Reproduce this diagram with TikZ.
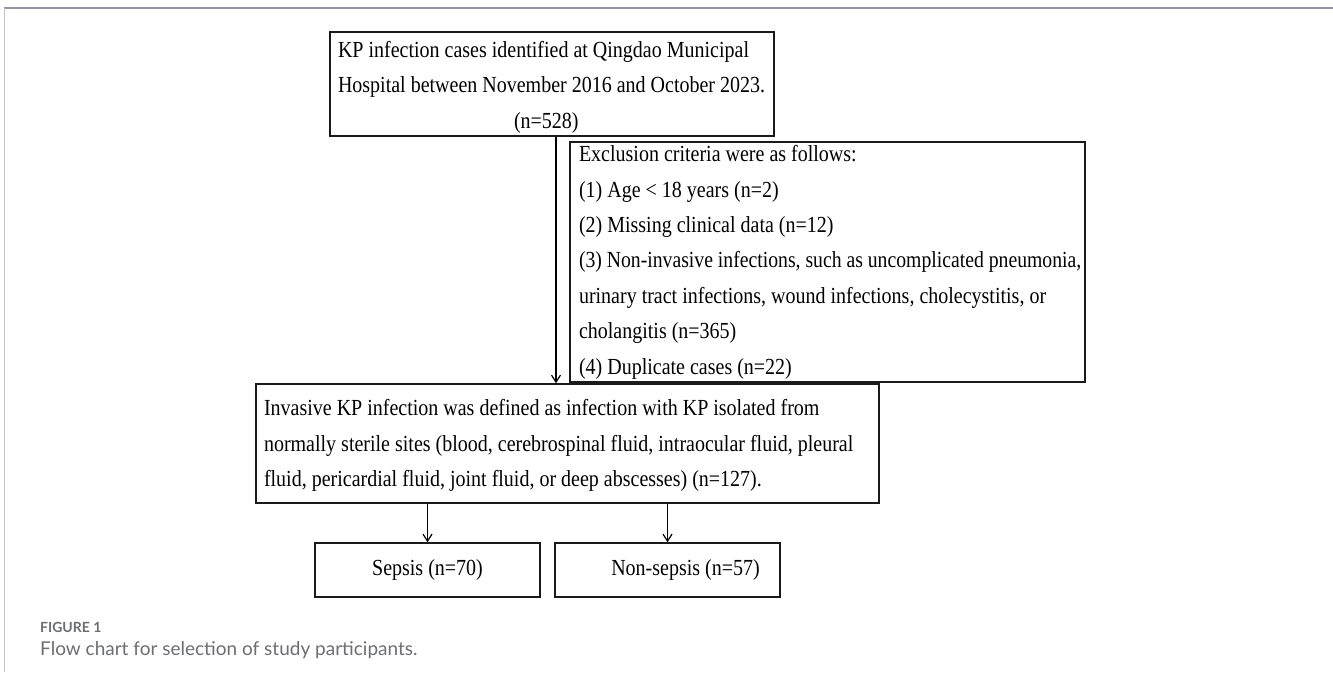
\documentclass[tikz,border=0pt]{standalone}
\usepackage{fontspec}
\setmainfont{Liberation Serif}
\newfontfamily\capfont{Lato}
\usetikzlibrary{arrows.meta}
\definecolor{rulegray}{HTML}{9494A6}
\definecolor{leftgray}{HTML}{C4C4CC}
\definecolor{capgray}{HTML}{6D6E71}
\definecolor{boxline}{HTML}{1A1A1A}
% text block: width #1, lines #2, stretched vertically like the reference
\newcommand\flowtext[3][-5.75pt]{\raisebox{#1}[0pt][0pt]{\scalebox{1}[1.15]{\makebox[#2][l]{\begin{tabular}[c]{@{}l@{}}#3\end{tabular}}}}}
\newcommand\tallline[1]{\scalebox{1}[1.15]{#1}}
\tikzset{
  flowbox/.style={draw=boxline, line width=1.6pt, inner sep=0pt,
    font=\fontsize{20}{30.8}\selectfont},
  smallbox/.style={draw=boxline, line width=1.6pt, inner sep=0pt, align=center,
    minimum width=225pt, minimum height=54pt, font=\fontsize{20}{24}\selectfont},
  arr/.style={draw=black, line width=1.2pt, -{Straight Barb[length=7pt,width=9pt]}},
}
\begin{document}
\begin{tikzpicture}[x=1pt,y=-1pt]
\useasboundingbox (0,0) rectangle (1333,672);
\fill[white] (0,0) rectangle (1333,672);
% page rules
\draw[rulegray, line width=2pt] (4,8) -- (1333,8);
\draw[leftgray, line width=1pt] (4,8) -- (4,672);

\node[flowbox, minimum width=444pt, minimum height=104pt]
  (kp) at (552,84)
  {\flowtext[-7.75pt]{428pt}{KP infection cases identified at Qingdao Municipal\\
   Hospital between November 2016 and October 2023.\\
   \hspace*{176pt}(n=528)}};

\node[flowbox, minimum width=515pt, minimum height=240pt]
  (excl) at (827.5,262)
  {\flowtext[-4.75pt]{497pt}{Exclusion criteria were as follows:\\
   (1) Age < 18 years (n=2)\\
   (2) Missing clinical data (n=12)\\
   \scalebox{0.985}[1]{(3) Non-invasive infections, such as uncomplicated pneumonia,}\\
   urinary tract infections, wound infections, cholecystitis, or\\
   cholangitis (n=365)\\
   (4) Duplicate cases (n=22)}};

\node[flowbox, minimum width=623pt, minimum height=119pt]
  (inv) at (567.5,443.5)
  {\flowtext[-6.75pt]{607pt}{Invasive KP infection was defined as infection with KP isolated from\\
   normally sterile sites (blood, cerebrospinal fluid, intraocular fluid, pleural\\
   fluid, pericardial fluid, joint fluid, or deep abscesses) (n=127).}};

\node[smallbox] (sep) at (427.5,570) {\tallline{Sepsis (n=70)}};
\node[smallbox] (nsep) at (667.5,570) {\tallline{\hspace*{36pt}Non-sepsis (n=57)}};

\coordinate (ax) at (556,0);
\draw[arr] (kp.south -| ax) -- (inv.north -| ax);
\draw[arr] (inv.south -| sep.north) -- (sep.north);
\draw[arr] (inv.south -| nsep.north) -- (nsep.north);

% caption
\node[anchor=west, inner sep=0pt, text=capgray, font=\capfont\bfseries\fontsize{14}{16}\selectfont]
  (figlab) at (40,627) {FIGURE 1};
\node[anchor=west, inner sep=0pt, text=capgray, font=\capfont\fontsize{19}{22}\selectfont]
  (figcap) at (40,650) {Flow chart for selection of study participants.};
\end{tikzpicture}
\end{document}
